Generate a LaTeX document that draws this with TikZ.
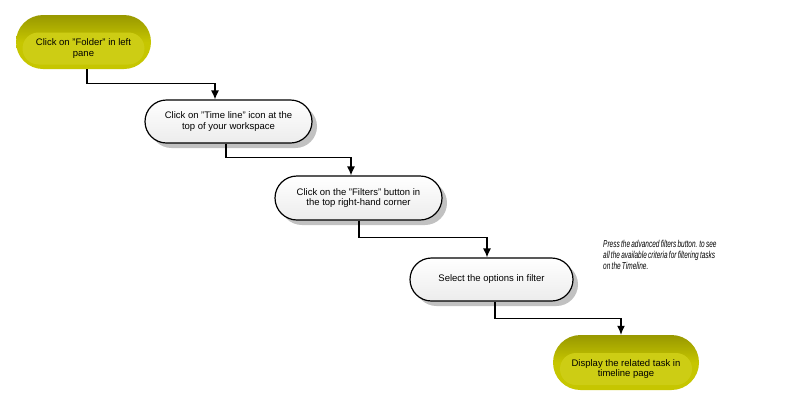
\documentclass[tikz,border=0pt]{standalone}
\usepackage{fontspec}
\setmainfont{Liberation Sans}
\newfontfamily\notefont[FakeStretch=0.65,WordSpace=0.7]{Liberation Sans Italic}
\usetikzlibrary{shapes.misc,shadows,arrows.meta}
\definecolor{olivetop}{HTML}{989800}
\definecolor{olivebody}{HTML}{C6C600}
\definecolor{olivelight}{HTML}{CDCD14}
\definecolor{stepfill}{HTML}{ECECEC}
\tikzset{
  pill/.style={rounded rectangle, inner sep=0pt},
  yellowbox/.style={pill, top color=olivetop, bottom color=olivebody, middle color=olivebody},
  yellowface/.style={pill, fill=olivelight, align=center, font=\fontsize{9.5}{10.5}\selectfont},
  whitebox/.style={pill, draw=black, line width=1.2pt, top color=white, bottom color=stepfill,
    align=center, font=\fontsize{9.5}{10.5}\selectfont,
    drop shadow={shadow xshift=5pt, shadow yshift=-5pt, fill=black!35, opacity=0.7}},
  flow/.style={line width=1.2pt, -{Latex[length=9pt,width=8pt]}}
}
\begin{document}
\begin{tikzpicture}[x=1pt,y=-1pt]
  \useasboundingbox (0,0) rectangle (800,405);
  % first and last steps
  \node[yellowbox, minimum width=135pt, minimum height=54pt] (b1) at (83.5,42) {};
  \node[yellowface, minimum width=122pt, minimum height=32pt] (b1f) at (83.5,48.5) {Click on "Folder" in left\\pane};
  \node[yellowbox, minimum width=146pt, minimum height=55pt] (b5) at (626,362.5) {};
  \node[yellowface, minimum width=132pt, minimum height=32pt] (b5f) at (626,369) {Display the related task in\\timeline page};
  % middle steps
  \node[whitebox, minimum width=167pt, minimum height=43pt] (b2) at (228.5,121.5) {Click on "Time line" icon at the\\top of your workspace};
  \node[whitebox, minimum width=167pt, minimum height=44pt] (b3) at (358.5,198) {Click on the "Filters" button in\\the top right-hand corner};
  \node[whitebox, minimum width=163pt, minimum height=43pt] (b4) at (491.5,279.5) {Select the options in filter};
  % note
  \node[anchor=north west, align=left, inner sep=0pt, font=\fontsize{10}{11}\notefont] (note) at (603,240.5)
    {Press the advanced filters button. to see\\all the available criteria for filtering tasks\\on the Timeline.};
  % connectors
  \draw[flow] ([xshift=3.5pt]b1.south) -- ++(0,14) -| ([xshift=-13.5pt]b2.north);
  \draw[flow] ([xshift=-2.5pt]b2.south) -- ++(0,14) -| ([xshift=-7.5pt]b3.north);
  \draw[flow] ([xshift=0.5pt]b3.south) -- ++(0,17) -| ([xshift=-4.5pt]b4.north);
  \draw[flow] ([xshift=3.5pt]b4.south) -- ++(0,17) -| ([xshift=-5pt]b5.north);
\end{tikzpicture}
\end{document}
